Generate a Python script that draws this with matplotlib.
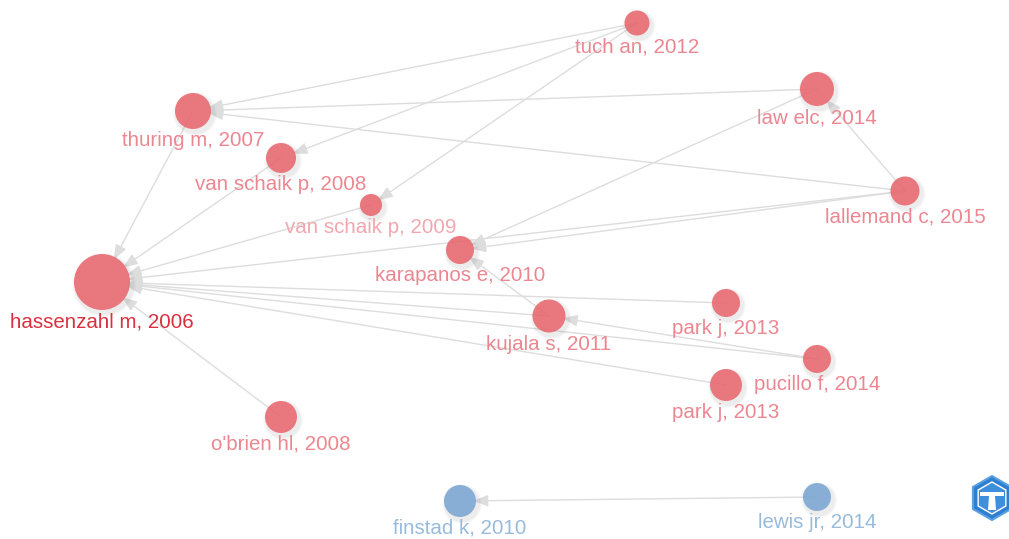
import matplotlib
matplotlib.use("Agg")
import matplotlib.pyplot as plt
from matplotlib.patches import Circle, RegularPolygon, Polygon

# ---- data ----
node_labels = ["hassenzahl m, 2006", "thuring m, 2007", "van schaik p, 2008",
               "van schaik p, 2009", "tuch an, 2012", "law elc, 2014",
               "lallemand c, 2015", "karapanos e, 2010", "kujala s, 2011",
               "park j, 2013", "pucillo f, 2014", "park j, 2013",
               "o'brien hl, 2008", "finstad k, 2010", "lewis jr, 2014"]
node_x = [102, 193, 281, 371, 637, 817, 905, 460, 549, 726, 817, 726, 281, 460, 817]
node_y = [282, 111, 158, 205, 23, 89, 191, 250, 316, 303, 359, 385, 417, 501, 497]
node_weight = [28, 18, 15, 11, 12.5, 17, 14.5, 14, 16.5, 14, 14, 16, 16, 16, 14]
node_cluster = [0, 0, 0, 0, 0, 0, 0, 0, 0, 0, 0, 0, 0, 1, 1]

# citing -> cited
edge_src = [4, 4, 4, 5, 5, 6, 6, 6, 6, 1, 2, 3, 8, 8, 9, 10, 10, 11, 12, 14]
edge_dst = [1, 2, 3, 1, 7, 5, 1, 7, 0, 0, 0, 0, 0, 7, 0, 0, 8, 0, 0, 13]

node_colors = ["#e8676f", "#7aa6d2"]
label_colors = ["#ec8690", "#98bbdc"]
main_label_color = "#d9303e"
faint_label_color = "#f1a7ae"
edge_color = "#dddddd"

W, H = 1009, 539
fig = plt.figure(figsize=(W / 100, H / 100), dpi=100)
ax = fig.add_axes([0, 0, 1, 1])
ax.set_xlim(0, W)
ax.set_ylim(H, 0)
ax.axis("off")
px2pt = 72 / 100

# edges
for s, d in zip(edge_src, edge_dst):
    ax.annotate("", xy=(node_x[d], node_y[d]), xytext=(node_x[s], node_y[s]),
                arrowprops=dict(arrowstyle="-|>,head_length=0.9,head_width=0.35",
                                color=edge_color, lw=1.0,
                                shrinkA=0, shrinkB=node_weight[d] * px2pt - 2),
                zorder=1)

# nodes
for i in range(len(node_labels)):
    x, y, r = node_x[i], node_y[i], node_weight[i]
    # soft shadow
    for k, a in [(4, 0.04), (3, 0.05), (2, 0.07)]:
        ax.add_patch(Circle((x + 2, y + 3), r + k, color="#888888", alpha=a,
                            lw=0, zorder=2))
    ax.add_patch(Circle((x, y), r, facecolor=node_colors[node_cluster[i]],
                        edgecolor="none", alpha=0.88, zorder=3))
    if i == 0:
        c = main_label_color
    elif i == 3:
        c = faint_label_color
    else:
        c = label_colors[node_cluster[i]]
    ax.text(x, y + r + 2, node_labels[i], ha="center", va="top",
            fontsize=14.8, color=c, family="Liberation Sans", zorder=4)

# logo
hx, hy = 992, 498
ax.add_patch(RegularPolygon((hx, hy), 6, radius=22, orientation=0,
                            facecolor="#2f7fd0", edgecolor="#5aa0e0", lw=1.5, zorder=5))
ax.add_patch(RegularPolygon((hx, hy), 6, radius=16, orientation=0,
                            facecolor="#3f90dc", edgecolor="white", lw=1, zorder=5))
ax.add_patch(Polygon([[hx - 12, hy - 6], [hx + 12, hy - 6], [hx + 12, hy - 2], [hx - 12, hy - 2]],
                     closed=True, facecolor="white", zorder=6))
ax.add_patch(Polygon([[hx - 3, hy - 2], [hx + 3, hy - 2], [hx + 4, hy + 12], [hx - 4, hy + 12]],
                     closed=True, facecolor="white", zorder=6))

fig.savefig("out.png", dpi=100, facecolor="white")
